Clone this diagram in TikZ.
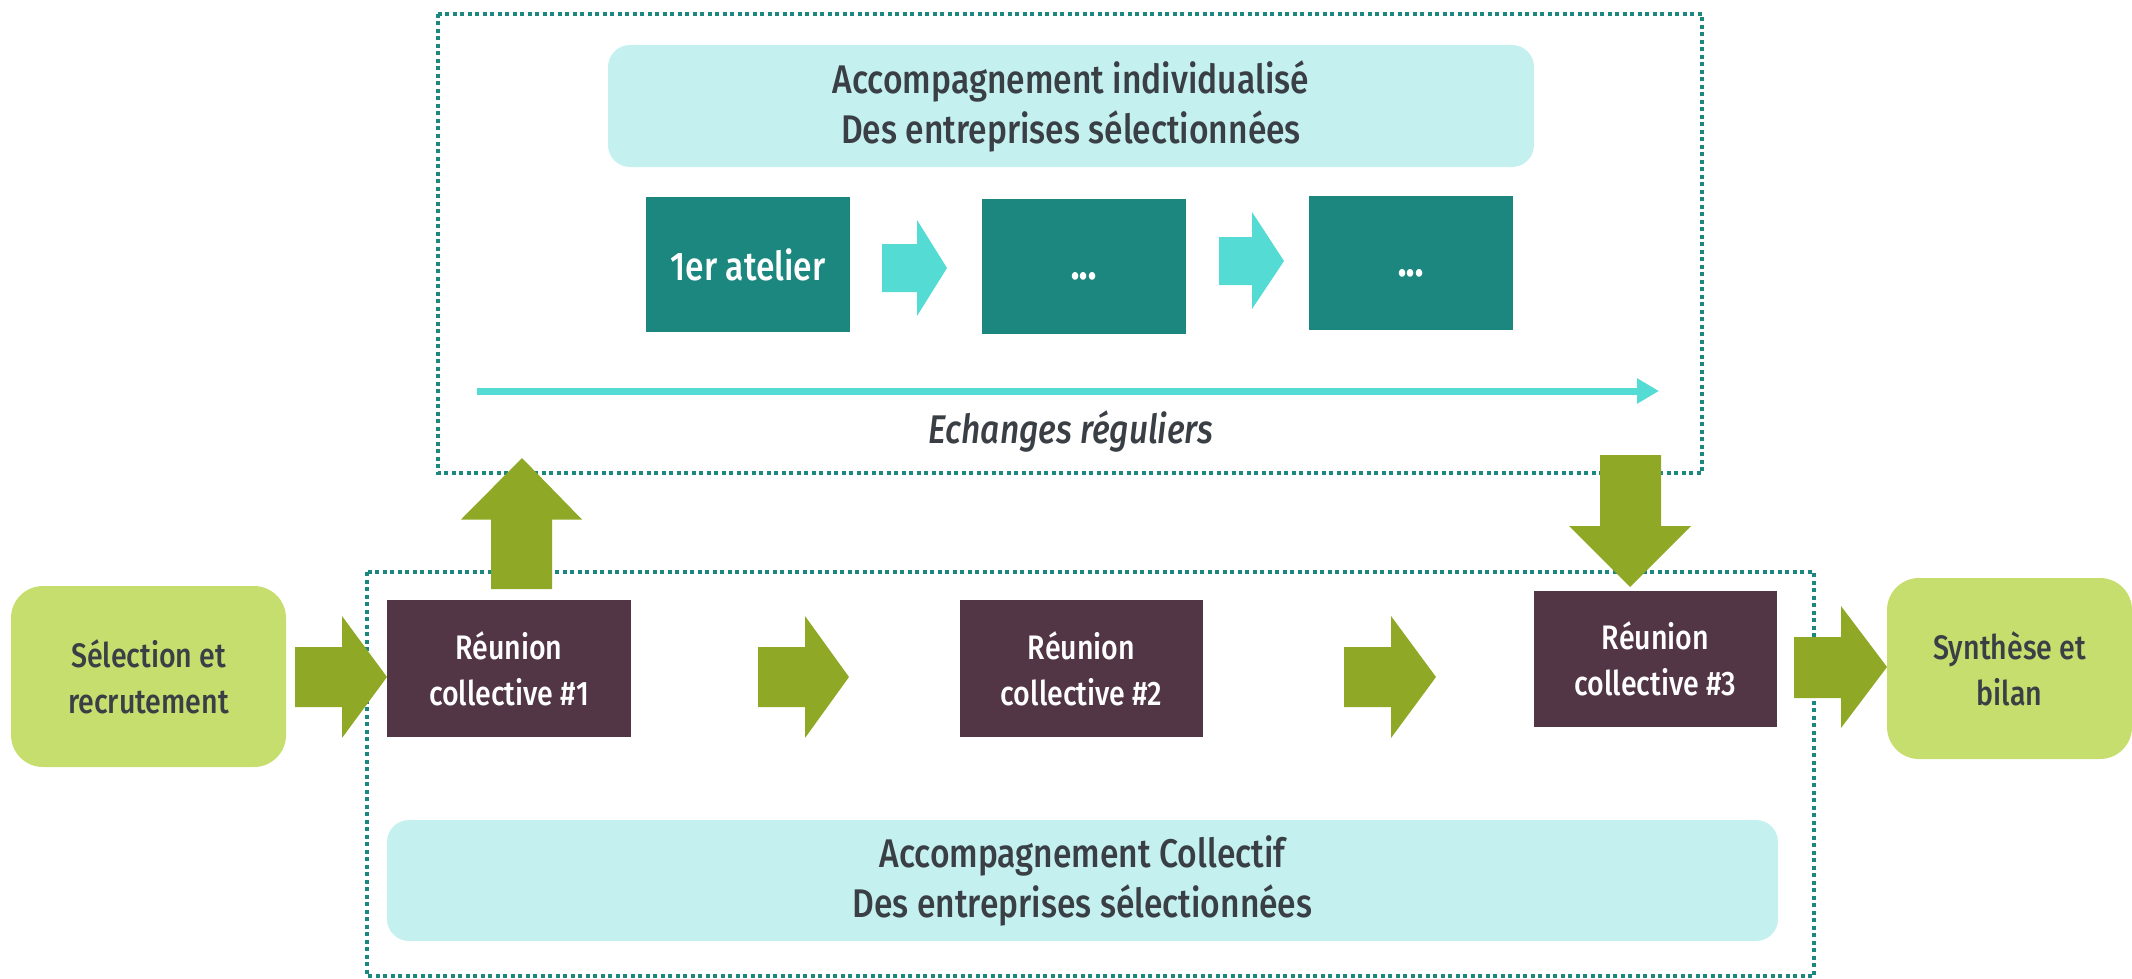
\documentclass[tikz,border=0pt]{standalone}
\usepackage{fontspec}
\setmainfont[FakeStretch=0.84, UprightFont=* Medium, ItalicFont=* Medium Italic]{Fira Sans}
\usetikzlibrary{arrows.meta}
\definecolor{teal1}{HTML}{1B877F}
\definecolor{lcyan}{HTML}{C4F1EF}
\definecolor{cyanarr}{HTML}{54DCD4}
\definecolor{garr}{HTML}{8FA927}
\definecolor{lgreen}{HTML}{C6DE6E}
\definecolor{purp}{HTML}{523646}
\definecolor{txt}{HTML}{3A3F45}
\tikzset{
  frame/.style={draw=teal1, line width=4pt, dash pattern=on 4pt off 3.5pt},
  infobox/.style={fill=lcyan, rounded corners=22pt, text=txt, align=center, font=\fontsize{40}{50}\selectfont},
  atelier/.style={fill=teal1, text=white, align=center, font=\fontsize{40}{48}\selectfont, minimum width=204pt, minimum height=135pt},
  reunion/.style={fill=purp, text=white, align=center, font=\fontsize{34}{46}\selectfont, minimum width=244pt, minimum height=137pt},
  endbox/.style={fill=lgreen, rounded corners=32pt, text=txt, align=center, font=\fontsize{34}{46}\selectfont, minimum width=275pt, minimum height=181pt},
}
\begin{document}
\begin{tikzpicture}[x=1pt,y=-1pt]
\useasboundingbox (0,0) rectangle (2132,979);
% frames
\draw[frame] (438,14) rectangle (1702,473);
\draw[frame] (367,572) rectangle (1814,976);
% top section
\node[infobox, minimum width=926pt, minimum height=122pt] (top) at (1071,106) {Accompagnement individualisé\\Des entreprises sélectionnées};
\node[atelier] (a1) at (748,264.5) {1er atelier};
\node[atelier] (a2) at (1084,266.5) {\vphantom{1}\textbf{...}};
\node[atelier, minimum height=134pt] (a3) at (1411,263) {\vphantom{1}\textbf{...}};
\fill[cyanarr] (882,244) -- (917,244) -- (917,220) -- (947,268) -- (917,316) -- (917,292) -- (882,292) -- cycle;
\fill[cyanarr] (1219,237) -- (1252,237) -- (1252,212) -- (1284,261) -- (1252,309) -- (1252,285) -- (1219,285) -- cycle;
\coordinate (ls) at (477,391);
\coordinate (le) at (1659,391);
\draw[cyanarr, line width=7pt, -{Triangle[length=22pt,width=24pt]}] (ls) -- (le);
\node[text=txt, font=\fontsize{40}{48}\selectfont\itshape] (ech) at (1071,431) {Echanges réguliers};
% bottom section
\node[endbox] (sel) at (148.5,676.5) {Sélection et\\recrutement};
\node[reunion] (r1) at (509,668.5) {Réunion\\collective \#1};
\node[reunion, minimum width=243pt] (r2) at (1081.5,668.5) {Réunion\\collective \#2};
\node[reunion, minimum width=243pt, minimum height=136pt] (r3) at (1655.5,659) {Réunion\\collective \#3};
\node[endbox, minimum width=245pt] (syn) at (2009.5,668.5) {Synthèse et\\bilan};
\node[infobox, minimum width=1391pt, minimum height=121pt] (bot) at (1082.5,880.5) {Accompagnement Collectif\\Des entreprises sélectionnées};
% green arrows
\fill[garr] (295,647) -- (342,647) -- (342,616) -- (387,677) -- (342,738) -- (342,707) -- (295,707) -- cycle;
\fill[garr] (758,647) -- (805,647) -- (805,616) -- (849,677) -- (805,738) -- (805,707) -- (758,707) -- cycle;
\fill[garr] (1344,647) -- (1391,647) -- (1391,616) -- (1436,677) -- (1391,738) -- (1391,707) -- (1344,707) -- cycle;
\fill[garr] (1794,637) -- (1841,637) -- (1841,606) -- (1887,667) -- (1841,728) -- (1841,698) -- (1794,698) -- cycle;
\fill[garr] (491,589) -- (491,519.5) -- (461,519.5) -- (522,458) -- (582,519.5) -- (552,519.5) -- (552,589) -- cycle;
\fill[garr] (1600,455) -- (1661,455) -- (1661,526) -- (1691,526) -- (1630,587) -- (1569,526) -- (1600,526) -- cycle;
\end{tikzpicture}
\end{document}
